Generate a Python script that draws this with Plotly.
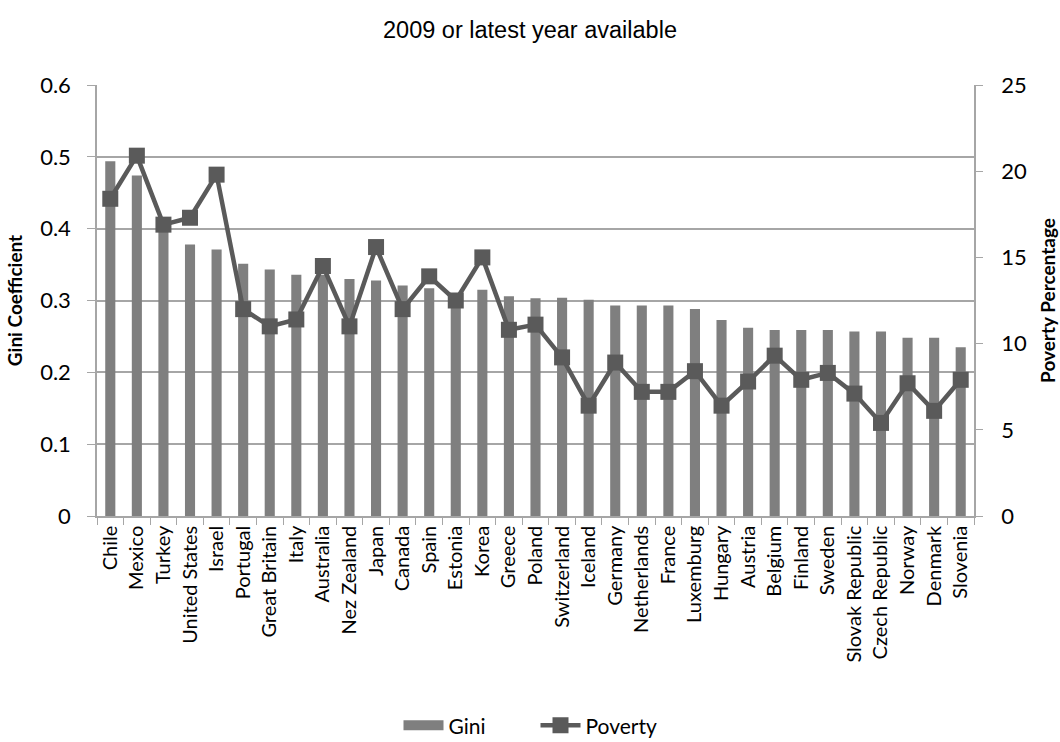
import plotly.graph_objects as go

countries = ["Chile", "Mexico", "Turkey", "United States", "Israel", "Portugal", "Great Britain",
             "Italy", "Australia", "Nez Zealand", "Japan", "Canada", "Spain", "Estonia", "Korea",
             "Greece", "Poland", "Switzerland", "Iceland", "Germany", "Netherlands", "France",
             "Luxemburg", "Hungary", "Austria", "Belgium", "Finland", "Sweden", "Slovak Republic",
             "Czech Republic", "Norway", "Denmark", "Slovenia"]
gini = [0.494, 0.474, 0.409, 0.378, 0.371, 0.351, 0.343, 0.336, 0.336, 0.330, 0.328, 0.321,
        0.317, 0.310, 0.315, 0.306, 0.303, 0.304, 0.301, 0.293, 0.293, 0.293, 0.288, 0.273,
        0.262, 0.259, 0.259, 0.259, 0.257, 0.257, 0.248, 0.248, 0.235]
poverty = [18.4, 20.9, 16.9, 17.3, 19.8, 12.0, 11.0, 11.4, 14.5, 11.0, 15.6, 12.0, 13.9, 12.5,
           15.0, 10.8, 11.1, 9.2, 6.4, 8.9, 7.2, 7.2, 8.4, 6.4, 7.8, 9.3, 7.9, 8.3, 7.1, 5.4,
           7.7, 6.1, 7.9]

font_main = "Lato, 'Open Sans', sans-serif"
axis_grey = "#a6a6a6"
bar_grey = "#7f7f7f"
line_grey = "#5a5a5a"

fig = go.Figure()
fig.add_trace(go.Bar(x=countries, y=gini, name="Gini", marker_color=bar_grey,
                     marker_line_width=0, width=0.38, yaxis="y", showlegend=False))
# legend entry for the bars, drawn as a wide swatch like the original
fig.add_trace(go.Scatter(x=[None], y=[None], name="Gini", mode="lines",
                         line=dict(color=bar_grey, width=15), yaxis="y"))
fig.add_trace(go.Scatter(x=countries, y=poverty, name="Poverty", yaxis="y2",
                         mode="lines+markers",
                         line=dict(color=line_grey, width=4.5),
                         marker=dict(symbol="square", size=16, color=line_grey)))

fig.update_layout(
    width=1060, height=742,
    margin=dict(l=97, r=86, t=85, b=226, autoexpand=False),
    paper_bgcolor="white", plot_bgcolor="white",
    title=dict(text="2009 or latest year available", x=0.5, xanchor="center", y=0.96, yanchor="middle",
               font=dict(family="Arial, 'Liberation Sans', sans-serif", size=23.5, color="#000")),
    font=dict(family=font_main, size=20, color="#000"),
    showlegend=True,
    legend=dict(orientation="h", x=0.5, xanchor="center", yref="container", y=0.022, yanchor="middle",
                font=dict(size=21, family=font_main), itemwidth=40, entrywidth=82,
                entrywidthmode="pixels", tracegroupgap=0),
    xaxis=dict(range=[-0.5, len(countries) - 0.5], tickangle=-90, automargin=False,
               tickfont=dict(size=20, family=font_main),
               showline=True, linecolor=axis_grey, linewidth=1.5,
               ticks="outside", tickson="boundaries", ticklen=7, tickcolor=axis_grey,
               showgrid=False),
    yaxis=dict(range=[0, 0.6], dtick=0.1, showgrid=True, gridcolor=axis_grey, automargin=False,
               gridwidth=1.5, showline=True, linecolor=axis_grey, linewidth=1.5,
               ticks="outside", ticklen=8, tickcolor=axis_grey, zeroline=False,
               ticklabelstandoff=12,
               tickfont=dict(size=22, family=font_main),
               title=dict(text="<b>Gini Coefficient</b>", font=dict(size=19, family=font_main), standoff=12)),
    yaxis2=dict(range=[0, 25], dtick=5, overlaying="y", side="right", showgrid=False, automargin=False,
                showline=True, linecolor=axis_grey, linewidth=1.5, ticks="outside", ticklen=7,
                ticklabelstandoff=14,
                tickcolor=axis_grey, zeroline=False, tickfont=dict(size=22, family=font_main),
                title=dict(text="<b>Poverty Percentage</b>", font=dict(size=19, family=font_main), standoff=16)),
)

fig.write_html("out.html")
